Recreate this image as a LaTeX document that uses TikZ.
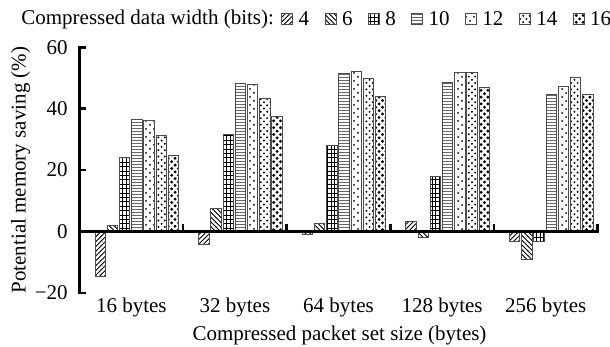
\documentclass[tikz,border=0pt]{standalone}
\usepackage{fontspec}
\setmainfont{Liberation Serif}
\usepackage{tikz}
\usetikzlibrary{patterns, positioning}

% fill patterns for the seven data widths
\pgfdeclarepatternformonly{hatchne}{\pgfqpoint{-1pt}{-1pt}}{\pgfqpoint{3.4pt}{3.4pt}}{\pgfqpoint{2.4pt}{2.4pt}}{%
  \pgfsetlinewidth{0.45pt}%
  \pgfpathmoveto{\pgfqpoint{-0.1pt}{-0.1pt}}%
  \pgfpathlineto{\pgfqpoint{2.5pt}{2.5pt}}%
  \pgfusepath{stroke}}
\pgfdeclarepatternformonly{hatchnw}{\pgfqpoint{-1pt}{-1pt}}{\pgfqpoint{3.4pt}{3.4pt}}{\pgfqpoint{2.4pt}{2.4pt}}{%
  \pgfsetlinewidth{0.45pt}%
  \pgfpathmoveto{\pgfqpoint{-0.1pt}{2.5pt}}%
  \pgfpathlineto{\pgfqpoint{2.5pt}{-0.1pt}}%
  \pgfusepath{stroke}}
\pgfdeclarepatternformonly{gridfine}{\pgfqpoint{-0.5pt}{-0.5pt}}{\pgfqpoint{2.5pt}{2.7pt}}{\pgfqpoint{1.8pt}{2.2pt}}{%
  \pgfsetlinewidth{0.35pt}%
  \pgfpathmoveto{\pgfqpoint{0pt}{0pt}}\pgfpathlineto{\pgfqpoint{1.8pt}{0pt}}%
  \pgfpathmoveto{\pgfqpoint{0pt}{0pt}}\pgfpathlineto{\pgfqpoint{0pt}{2.2pt}}%
  \pgfusepath{stroke}}
\pgfdeclarepatternformonly{hlinesfine}{\pgfqpoint{-0.5pt}{-0.5pt}}{\pgfqpoint{2pt}{2pt}}{\pgfqpoint{1.5pt}{1.5pt}}{%
  \pgfsetlinewidth{0.45pt}%
  \pgfpathmoveto{\pgfqpoint{-0.1pt}{0pt}}\pgfpathlineto{\pgfqpoint{1.6pt}{0pt}}%
  \pgfusepath{stroke}}
\pgfdeclarepatternformonly{dotssparse}{\pgfqpoint{-0.5pt}{-0.5pt}}{\pgfqpoint{4.5pt}{4.5pt}}{\pgfqpoint{4pt}{4pt}}{%
  \pgfpathcircle{\pgfqpoint{1pt}{1pt}}{0.5pt}%
  \pgfpathcircle{\pgfqpoint{3pt}{3pt}}{0.5pt}%
  \pgfusepath{fill}}
\pgfdeclarepatternformonly{dotsmid}{\pgfqpoint{-0.5pt}{-0.5pt}}{\pgfqpoint{3.7pt}{3.7pt}}{\pgfqpoint{3.2pt}{3.2pt}}{%
  \pgfpathcircle{\pgfqpoint{0.8pt}{0.8pt}}{0.55pt}%
  \pgfpathcircle{\pgfqpoint{2.4pt}{2.4pt}}{0.55pt}%
  \pgfusepath{fill}}
\pgfdeclarepatternformonly{dotsbig}{\pgfqpoint{-0.5pt}{-0.5pt}}{\pgfqpoint{4pt}{4pt}}{\pgfqpoint{3.4pt}{3.4pt}}{%
  \pgfpathcircle{\pgfqpoint{0.85pt}{0.85pt}}{0.8pt}%
  \pgfpathcircle{\pgfqpoint{2.55pt}{2.55pt}}{0.8pt}%
  \pgfusepath{fill}}

\begin{document}
\begin{tikzpicture}[
    x=0.5pt, y=0.5pt,
    every node/.style={font=\fontsize{10.5}{12}\selectfont, inner sep=0pt},
    barbase/.style={draw=gray!60!black, line width=0.5pt},
    bar1/.style={barbase, pattern=hatchne},
    bar2/.style={barbase, pattern=hatchnw},
    bar3/.style={barbase, pattern=gridfine},
    bar4/.style={barbase, pattern=hlinesfine, pattern color=gray!80!black},
    bar5/.style={barbase, pattern=dotssparse},
    bar6/.style={barbase, pattern=dotsmid},
    bar7/.style={barbase, pattern=dotsbig},
    keybox/.style={minimum size=5.5pt},
    axisline/.style={line width=1.3pt},
]
\useasboundingbox (0,0) rectangle (610,347);

% ---------------------------------------------------------------
%  Legend
% ---------------------------------------------------------------
\node[anchor=west] (lgtitle) at (21,328) {Compressed data width (bits):};
\node[bar1, keybox, right=3.5pt of lgtitle] (key4) {};
\node[right=2.5pt of key4] (lab4) {4};
\node[bar2, keybox, right=7.5pt of lab4] (key6) {};
\node[right=2.5pt of key6] (lab6) {6};
\node[bar3, keybox, right=7.5pt of lab6] (key8) {};
\node[right=2.5pt of key8] (lab8) {8};
\node[bar4, keybox, right=7.5pt of lab8] (key10) {};
\node[right=2.5pt of key10] (lab10) {10};
\node[bar5, keybox, right=7.5pt of lab10] (key12) {};
\node[right=2.5pt of key12] (lab12) {12};
\node[bar6, keybox, right=7.5pt of lab12] (key14) {};
\node[right=2.5pt of key14] (lab14) {14};
\node[bar7, keybox, right=7.5pt of lab14] (key16) {};
\node[right=2.5pt of key16] (lab16) {16};

% ---------------------------------------------------------------
%  Plot area (x in px, y in percent)
% ---------------------------------------------------------------
\begin{scope}[shift={(79.5,115.5)}, y=1.535pt]
    % bars, one group per packet set size
    \foreach \vals [count=\g from 0] in {
        {-14.5,2.1,24.2,36.6,36.3,31.2,24.9},
        {-4.1,7.6,31.5,48.3,47.8,43.4,37.6},
        {-1.0,2.7,27.9,51.5,52.2,49.7,43.9},
        {3.4,-1.9,17.8,48.6,51.9,51.9,47.0},
        {-3.3,-9.1,-3.3,44.5,47.2,50.2,44.5}}
      \foreach \v [count=\k] in \vals
        \path[bar\k] ({103.6*\g+15.5+12.2*(\k-1)},0) rectangle ++(10.5,\v);

    % y axis
    \draw[axisline] (6,60) -- (0,60) -- (0,-20) -- (6,-20);
    \foreach \t/\lab in {60/60, 40/40, 20/20, 0/0, -20/−20} {
        \draw[axisline] (0,\t) -- ++(6,0);
        \node[anchor=east] (ytk\t) at (-11.5,\t) {\lab};
    }
    \node[rotate=90] (ylab) at (-59,20) {Potential memory saving (\%)};

    % x axis
    \draw[axisline] (0,0) -- (518,0) -- ++(0,2.3);
    \foreach \g in {1,...,4}
        \draw[axisline] ({103.6*\g},0) -- ++(0,2.3);
    \foreach \lab [count=\g from 0] in {16, 32, 64, 128, 256}
        \node (grp\lab) at ({103.6*\g+51.8},-24.6) {\lab{} bytes};
    \node (xlab) at (260,-34) {Compressed packet set size (bytes)};
\end{scope}

\end{tikzpicture}
\end{document}
